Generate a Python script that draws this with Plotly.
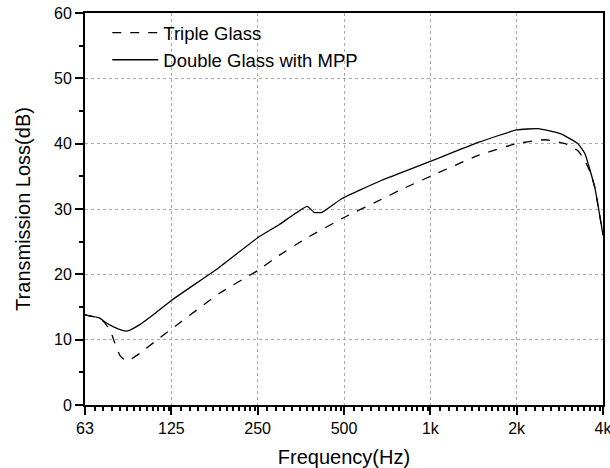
import math
import plotly.graph_objects as go

# Data
freq_triple = [62.5, 67.0, 72.0, 76.3, 79.4, 82.7, 86.0, 88.5, 97.0, 111, 125, 184, 250, 297, 372, 500, 677, 776,
               1000, 1470, 2000, 2513, 2948, 3270, 3457, 3627, 3744, 4000]
tl_triple = [13.8, 13.5, 12.9, 11.5, 9.5, 7.6, 6.9, 6.8, 7.9, 9.9, 11.6, 17.1, 20.6, 22.9, 25.6, 28.7, 31.5, 32.8,
             35.0, 38.2, 40.0, 40.6, 40.0, 38.9, 37.4, 35.4, 33.3, 26.0]

freq_double = [62.5, 70.4, 73.3, 80.0, 87.4, 97.0, 111, 125, 184, 250, 297, 372, 393, 419, 492, 677,
               1000, 1470, 2000, 2376, 2854, 3270, 3457, 3744, 4000]
tl_double = [13.8, 13.3, 12.7, 11.8, 11.3, 12.3, 14.2, 16.0, 21.1, 25.6, 27.6, 30.4, 29.5, 29.5, 31.6, 34.4,
             37.3, 40.2, 42.1, 42.3, 41.5, 40.0, 38.5, 33.3, 26.0]

xtick_vals = [62.5, 125, 250, 500, 1000, 2000, 4000]
xtick_text = ["63", "125", "250", "500", "1k", "2k", "4k"]

# minor tick positions (12 linear steps within each octave)
minor_x = []
for b in xtick_vals[:-1]:
    step = b * 0.08
    for k in range(1, 13):
        minor_x.append(b + k * step)

FONT = "Liberation Sans, Arial, sans-serif"

fig = go.Figure()
fig.add_trace(go.Scatter(x=freq_triple, y=tl_triple, mode="lines", name="Triple Glass",
                         line=dict(color="black", width=1.3, dash="dash", shape="spline", smoothing=0.5)))
fig.add_trace(go.Scatter(x=freq_double, y=tl_double, mode="lines", name="Double Glass with MPP",
                         line=dict(color="black", width=1.3, shape="spline", smoothing=0.4)))

fig.update_layout(
    width=610, height=468,
    margin=dict(l=85, r=5, t=12, b=63),
    plot_bgcolor="white", paper_bgcolor="white",
    font=dict(family=FONT, size=16, color="black"),
    legend=dict(x=0.043, y=0.997, xanchor="left", yanchor="top", bgcolor="rgba(0,0,0,0)",
                font=dict(size=18.5, family=FONT), borderwidth=0, tracegroupgap=0,
                itemwidth=46),
    xaxis=dict(type="log", range=[math.log10(62.5), math.log10(4000) + 1e-5],
               tickvals=xtick_vals, ticktext=xtick_text, ticklabeloverflow="allow", automargin=False,
               showline=True, linecolor="black", linewidth=2, mirror=True,
               ticks="outside", ticklen=8, tickwidth=2, tickcolor="black",
               showgrid=True, gridcolor="#aaaaaa", griddash="dot", gridwidth=1,
               minor=dict(tickvals=minor_x, ticks="outside", ticklen=4, tickwidth=1.5, tickcolor="black",
                          showgrid=False),
               title=dict(text="Frequency(Hz)", font=dict(size=20), standoff=14),
               zeroline=False, tickfont=dict(size=16)),
    yaxis=dict(range=[0, 60], tickvals=[0, 10, 20, 30, 40, 50, 60],
               showline=True, linecolor="black", linewidth=2, mirror=True,
               ticks="outside", ticklen=8, tickwidth=2, tickcolor="black",
               showgrid=True, gridcolor="#aaaaaa", griddash="dot", gridwidth=1,
               minor=dict(dtick=5, ticks="outside", ticklen=4, tickwidth=1.5, tickcolor="black", showgrid=False),
               title=dict(text="Transmission Loss(dB)", font=dict(size=20), standoff=18),
               zeroline=False, tickfont=dict(size=16)),
)

fig.write_html("out.html")
